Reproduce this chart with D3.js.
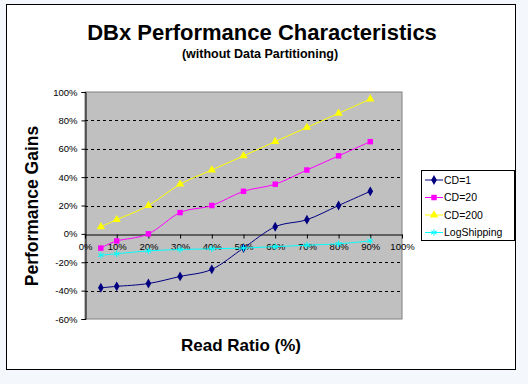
<!DOCTYPE html>
<html>
<head>
<meta charset="utf-8">
<script src="https://cdn.jsdelivr.net/npm/d3@7"></script>
<style>
  body { margin: 0; background: #f4f7fb; }
  svg { display: block; font-family: Arial, "Liberation Sans", sans-serif; }
</style>
</head>
<body>
<div id="chart"></div>
<script>
const readRatio = [5, 10, 20, 30, 40, 50, 60, 70, 80, 90];
const seriesNames = ["CD=1", "CD=20", "CD=200", "LogShipping"];
const cd1 = [-38, -37, -35, -30, -25, -10, 5, 10, 20, 30];
const cd20 = [-10, -5, 0, 15, 20, 30, 35, 45, 55, 65];
const cd200 = [5, 10, 20, 35, 45, 55, 65, 75, 85, 95];
const logShipping = [-15, -14, -12, -11, -10.5, -10, -9, -8, -7, -5];
const yTicks = [-60, -40, -20, 0, 20, 40, 60, 80, 100];
const xTicks = [0, 10, 20, 30, 40, 50, 60, 70, 80, 90, 100];

const W = 528, H = 384;
const plot = { left: 85, right: 402, top: 92, bottom: 319 };

const svg = d3.select("#chart").append("svg")
    .attr("width", W)
    .attr("height", H);

// chart area with black border
svg.append("rect")
    .attr("x", 6.5).attr("y", 4.5)
    .attr("width", 509).attr("height", 365)
    .attr("fill", "white")
    .attr("stroke", "black");

const x = d3.scaleLinear().domain([0, 100]).range([plot.left, plot.right]);
const y = d3.scaleLinear().domain([-60, 100]).range([plot.bottom, plot.top]);

// plot area
svg.append("rect")
    .attr("x", plot.left).attr("y", plot.top)
    .attr("width", plot.right - plot.left)
    .attr("height", plot.bottom - plot.top)
    .attr("fill", "#c0c0c0")
    .attr("stroke", "#808080");

// dashed gridlines
svg.append("g")
    .selectAll("line")
    .data(yTicks.filter(d => d !== 0 && d !== -60 && d !== 100))
    .enter()
    .append("line")
    .attr("x1", plot.left).attr("x2", plot.right)
    .attr("y1", d => Math.round(y(d)) + 0.5)
    .attr("y2", d => Math.round(y(d)) + 0.5)
    .attr("stroke", "black")
    .attr("stroke-dasharray", "3,3");

// y axis
const yAxis = svg.append("g")
    .attr("transform", `translate(${plot.left + 0.5},0)`)
    .call(d3.axisLeft(y).tickValues(yTicks).tickSize(4).tickFormat(d => d + "%"));
yAxis.select(".domain").attr("stroke", "black");
yAxis.selectAll("text").attr("font-size", 9.5).attr("fill", "black")
    .attr("font-family", "Arial, 'Liberation Sans', sans-serif").attr("dx", -1);

// x axis at 0%
const xAxis = svg.append("g")
    .attr("transform", `translate(0,${Math.round(y(0)) + 0.5})`)
    .call(d3.axisBottom(x).tickValues(xTicks).tickSize(4).tickSizeOuter(0).tickFormat(d => d + "%"));
xAxis.select(".domain").attr("stroke", "black");
xAxis.selectAll("text").attr("font-size", 9.5).attr("fill", "black")
    .attr("font-family", "Arial, 'Liberation Sans', sans-serif").attr("dy", "0.9em");

const line = d3.line()
    .x(d => x(d[0]))
    .y(d => y(d[1]))
    .curve(d3.curveCatmullRom.alpha(0));

const asterisk = d3.symbolAsterisk || d3.symbolCross;
const series = [
    { name: seriesNames[0], values: cd1, color: "#000080", symbol: d3.symbolDiamond, size: 28, stroke: false },
    { name: seriesNames[1], values: cd20, color: "#ff00ff", symbol: d3.symbolSquare, size: 30, stroke: false },
    { name: seriesNames[2], values: cd200, color: "#ffff00", symbol: d3.symbolTriangle, size: 30, stroke: false },
    { name: seriesNames[3], values: logShipping, color: "#00ffff", symbol: asterisk, size: 30, stroke: true }
];

series.forEach(s => {
    const pts = readRatio.map((r, i) => [r, s.values[i]]);
    svg.append("path")
        .datum(pts)
        .attr("d", line)
        .attr("fill", "none")
        .attr("stroke", s.color)
        .attr("stroke-width", 1);
    svg.append("g")
        .selectAll("path")
        .data(pts)
        .enter()
        .append("path")
        .attr("transform", d => `translate(${x(d[0])},${y(d[1])})`)
        .attr("d", d3.symbol().type(s.symbol).size(s.size))
        .attr("fill", s.stroke ? "none" : s.color)
        .attr("stroke", s.stroke ? s.color : "none");
});

// titles
svg.append("text")
    .attr("x", 262).attr("y", 40)
    .attr("text-anchor", "middle")
    .attr("font-size", 22)
    .attr("font-weight", "bold")
    .text("DBx Performance Characteristics");

svg.append("text")
    .attr("x", 260).attr("y", 58)
    .attr("text-anchor", "middle")
    .attr("font-size", 12.5)
    .attr("font-weight", "bold")
    .text("(without Data Partitioning)");

svg.append("text")
    .attr("x", 241).attr("y", 351)
    .attr("text-anchor", "middle")
    .attr("font-size", 17)
    .attr("font-weight", "bold")
    .text("Read Ratio (%)");

svg.append("text")
    .attr("transform", "rotate(-90)")
    .attr("x", -206).attr("y", 38)
    .attr("text-anchor", "middle")
    .attr("font-size", 17.5)
    .attr("font-weight", "bold")
    .text("Performance Gains");

// legend
const legend = svg.append("g").attr("transform", "translate(421,170)");
legend.append("rect")
    .attr("x", 0.5).attr("y", 0.5)
    .attr("width", 93).attr("height", 70)
    .attr("fill", "white")
    .attr("stroke", "black");

const rows = legend.selectAll(".row")
    .data(series)
    .enter()
    .append("g")
    .attr("transform", (d, i) => `translate(0,${10 + i * 17.5})`);

rows.append("line")
    .attr("x1", 4).attr("x2", 22)
    .attr("stroke", d => d.color);
rows.append("path")
    .attr("transform", "translate(13,0)")
    .attr("d", d => d3.symbol().type(d.symbol).size(d.size)())
    .attr("fill", d => d.stroke ? "none" : d.color)
    .attr("stroke", d => d.stroke ? d.color : "none");
rows.append("text")
    .attr("x", 23).attr("y", 0)
    .attr("dy", "0.35em")
    .attr("font-size", 10.5)
    .text(d => d.name);
</script>
</body>
</html>
